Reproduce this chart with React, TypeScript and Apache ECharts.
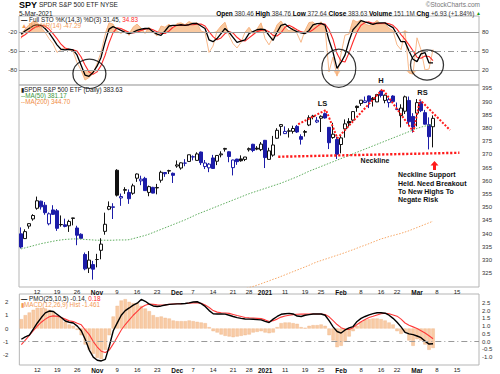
import React, { useEffect, useRef } from 'react';
import * as echarts from 'echarts';

const FONT = '"Liberation Sans", Arial, Helvetica, sans-serif';

const dates = [
  '2020-10-06','2020-10-07','2020-10-08','2020-10-09','2020-10-12','2020-10-13','2020-10-14','2020-10-15','2020-10-16','2020-10-19','2020-10-20','2020-10-21','2020-10-22','2020-10-23','2020-10-26','2020-10-27','2020-10-28','2020-10-29','2020-10-30',
  '2020-11-02','2020-11-03','2020-11-04','2020-11-05','2020-11-06','2020-11-09','2020-11-10','2020-11-11','2020-11-12','2020-11-13','2020-11-16','2020-11-17','2020-11-18','2020-11-19','2020-11-20','2020-11-23','2020-11-24','2020-11-25','2020-11-27','2020-11-30',
  '2020-12-01','2020-12-02','2020-12-03','2020-12-04','2020-12-07','2020-12-08','2020-12-09','2020-12-10','2020-12-11','2020-12-14','2020-12-15','2020-12-16','2020-12-17','2020-12-18','2020-12-21','2020-12-22','2020-12-23','2020-12-24','2020-12-28','2020-12-29','2020-12-30','2020-12-31',
  '2021-01-04','2021-01-05','2021-01-06','2021-01-07','2021-01-08','2021-01-11','2021-01-12','2021-01-13','2021-01-14','2021-01-15','2021-01-19','2021-01-20','2021-01-21','2021-01-22','2021-01-25','2021-01-26','2021-01-27','2021-01-28','2021-01-29',
  '2021-02-01','2021-02-02','2021-02-03','2021-02-04','2021-02-05','2021-02-08','2021-02-09','2021-02-10','2021-02-11','2021-02-12','2021-02-16','2021-02-17','2021-02-18','2021-02-19','2021-02-22','2021-02-23','2021-02-24','2021-02-25','2021-02-26',
  '2021-03-01','2021-03-02','2021-03-03','2021-03-04','2021-03-05','2021-03-08','2021-03-09','2021-03-10','2021-03-11','2021-03-12','2021-03-15','2021-03-16','2021-03-17','2021-03-18','2021-03-19','2021-03-22'
];

const tickDates = ['2020-10-12','2020-10-19','2020-10-26','2020-11-02','2020-11-09','2020-11-16','2020-11-23','2020-12-01','2020-12-07','2020-12-14','2020-12-21','2020-12-28','2021-01-04','2021-01-11','2021-01-19','2021-01-25','2021-02-01','2021-02-08','2021-02-16','2021-02-22','2021-03-01','2021-03-08','2021-03-15'];
const tickTexts = ['12','19','26','Nov','9','16','23','Dec','7','14','21','28','2021','11','19','25','Feb','8','16','22','Mar','8','15'];
const boldTicks = ['Nov','Dec','2021','Feb','Mar'];

const prevClose = 339.76;
const opens = [339.91,338.12,342.85,345.56,349.59,352.28,350.75,343.71,348.96,348.65,
343.46,343.33,342.96,345.93,342.13,339.76,332.10,326.91,328.28,330.20,
333.69,340.86,349.24,349.93,363.97,353.49,356.40,355.58,355.27,360.98,
359.97,360.91,355.60,357.50,357.28,360.21,363.13,363.84,362.83,365.57,
364.82,366.68,367.32,369.02,367.72,370.88,365.37,364.90,368.64,367.40,
369.82,371.94,370.97,364.97,368.21,368.28,368.08,371.74,373.81,372.34,
371.78,375.31,368.10,369.71,376.10,380.59,377.85,378.89,378.69,380.59,
376.72,378.34,381.11,384.49,382.25,383.67,385.41,380.22,376.36,375.63,
373.72,379.65,382.44,382.96,388.20,389.27,389.61,392.12,391.24,389.85,
393.96,390.42,389.59,392.07,387.06,384.66,386.33,390.41,384.35,385.59,
389.82,385.79,381.22,380.46];
const highs = [342.35,341.63,343.85,347.35,354.02,352.47,351.93,348.02,350.75,349.33,
346.88,345.67,345.24,345.99,342.98,340.12,332.84,333.40,329.69,332.36,
338.25,347.94,352.19,351.51,364.38,355.18,357.56,356.72,358.90,362.78,
361.92,361.50,358.18,357.72,358.82,363.81,363.16,364.18,363.12,367.68,
366.96,368.19,369.85,369.62,370.78,371.05,367.86,366.74,369.80,369.59,
371.16,372.46,371.15,368.00,368.33,369.62,369.03,372.59,374.00,373.10,
374.66,375.45,372.50,376.98,379.90,381.49,380.58,379.86,380.86,381.13,
377.58,379.23,384.79,384.95,384.13,384.77,385.85,380.32,381.93,376.67,
377.34,383.22,383.70,386.24,388.47,390.56,391.89,392.28,391.69,392.90,
394.17,392.66,391.52,392.38,389.62,388.95,392.23,391.88,385.58,390.92,
390.07,386.83,384.00,384.76];
const lows = [334.38,338.09,341.86,344.89,349.06,349.09,347.14,343.13,347.10,341.04,
342.64,342.40,340.65,343.13,335.62,337.99,326.13,325.09,322.60,327.24,
330.29,339.59,348.86,345.53,354.06,350.51,355.06,351.26,354.71,359.59,
358.34,356.24,354.15,355.25,354.87,359.29,361.48,362.58,359.17,364.93,
364.20,365.50,367.22,367.72,367.67,365.95,364.43,363.26,364.47,365.92,
368.87,371.05,367.02,362.03,366.03,367.22,367.45,371.07,370.83,371.57,
371.23,364.82,368.05,369.12,375.91,377.10,377.72,376.36,377.85,378.10,
373.70,376.75,380.69,383.25,381.84,378.46,383.54,372.01,375.89,368.27,
370.38,376.32,380.48,381.97,386.14,388.35,389.42,387.50,388.10,389.77,
391.53,389.33,387.74,389.55,386.74,380.20,385.27,380.78,378.23,380.57,
386.00,381.31,371.88,372.64];
const closes = [334.93,340.76,343.78,346.85,352.43,350.13,347.93,347.50,347.29,342.01,
343.38,342.73,344.61,345.78,339.39,338.22,326.66,329.98,326.54,330.20,
336.03,343.54,350.24,350.16,354.56,354.04,356.67,353.21,358.10,362.57,
360.62,356.28,357.78,355.33,357.46,363.22,362.66,363.67,362.06,366.02,
366.79,366.69,369.85,369.09,370.17,366.85,366.73,366.30,364.66,369.59,
370.17,372.24,369.18,367.86,367.24,367.57,369.00,372.17,371.46,371.99,
373.88,368.79,371.33,373.55,379.10,381.26,378.69,378.77,379.79,378.46,
375.70,378.65,383.89,384.24,382.88,384.39,383.79,374.41,377.63,370.07,
376.23,381.55,381.85,386.19,387.71,390.51,390.25,390.08,390.71,392.64,
392.30,392.39,390.72,390.03,387.03,387.50,391.77,382.33,380.36,389.58,
386.54,381.42,376.70,383.63];

const ma50 = [334.2,334.6,335.0,335.4,335.8,336.2,336.5,336.8,337.1,337.4,
337.6,337.8,337.9,338.0,338.0,337.9,337.8,337.7,337.6,337.5,
337.5,337.5,337.5,337.5,337.6,337.6,337.6,337.7,338.1,338.5,
338.9,339.3,339.8,340.4,341.0,341.6,342.2,342.8,343.4,344.0,
344.6,345.2,345.9,346.6,347.3,347.9,348.5,349.1,349.7,350.3,
350.9,351.5,352.1,352.7,353.3,353.9,354.5,355.1,355.6,356.1,
356.6,357.1,357.6,358.1,358.6,359.1,359.7,360.3,360.9,361.5,
362.2,362.9,363.6,364.2,364.8,365.4,366.0,366.6,367.2,367.8,
368.4,369.0,369.6,370.2,370.8,371.4,372.0,372.6,373.2,373.8,
374.4,375.0,375.6,376.2,376.8,377.4,378.0,378.6,379.2,379.8,
380.3,380.7,381.0,381.17];

const ma200Start = 55;
const ma200 = [318.6,319.1,319.6,320.0,320.5,321.0,321.6,322.1,322.7,323.2,
323.8,324.4,325.0,325.6,326.2,326.8,327.4,328.0,328.7,329.3,
329.8,330.3,330.8,331.3,331.8,332.3,332.8,333.4,333.9,334.5,
335.1,335.6,336.2,336.8,337.4,338.0,338.4,338.9,339.3,339.7,
340.1,340.6,341.1,341.7,342.3,342.9,343.5,344.1,344.7];

const stoK = [77,82,86,90,92,91,86,79,70,60,
53,52,53,52,44,28,12,10,16,26,
40,64,85,89,86,83,80,78,80,83,
85,86,86,81,77,75,82,90,91,91,
92,91,92,94,94,90,86,68,65,70,
78,86,80,72,64,66,68,78,81,84,
85,84,75,67,80,91,93,88,84,81,
79,78,83,91.7,93.9,94.3,91.4,67.2,48.5,22.7,
32,43.7,66,84.1,91,98.6,96.4,94.6,92.5,94.4,
95.1,94.9,90.9,87.5,76.4,65,65,50.1,37.1,33.3,
45.6,47.8,31.2,31.45];

const stoD = [72,76,81,86,89,91,90,85,78,70,
61,55,53,52,50,41,28,17,13,17,
27,43,63,79,87,86,83,80,79,80,
83,85,86,84,81,78,78,82,88,91,
91,91,92,92,93,93,90,81,73,68,
71,78,81,79,72,67,66,71,76,81,
83,84,81,75,74,79,88,91,88,84,
81,79,80,84,89,93.3,93.2,84.3,69,46.1,
34.4,32.8,47.2,64.6,80.4,91.2,95.3,96.5,94.5,93.8,
94,94.8,93.6,91.1,84.9,76.3,68.8,60,50.7,40.2,
38.7,42.2,41.5,34.83];

const willR = [-30,-15,-8,-3,-4,-12,-20,-30,-38,-52,
-48,-45,-48,-50,-68,-80,-96,-92,-86,-70,
-52,-25,-5,-7,-18,-22,-16,-25,-12,-7,
-13,-22,-12,-20,-26,-10,-12,-7,-14,-6,
-5,-8,-3,-6,-5,-18,-20,-52,-42,-18,
-10,-4,-25,-38,-45,-36,-20,-12,-22,-15,
-5,-30,-40,-28,-8,-2,-12,-18,-13,-22,
-36,-17,-4.5,-3.5,-10.3,-3.3,-12.3,-82.7,-59.4,-89.8,
-54.7,-24.5,-22.8,-0.3,-3.8,-0.2,-6.9,-9.2,-6.5,-1.1,
-7.2,-6.9,-13.3,-17.4,-40,-47.7,-17.2,-84.8,-86.6,-28.8,
-47.9,-80,-78.4,-47.29];

const pmo = [0.15,0.3,0.42,0.8,1.2,1.55,1.85,1.97,1.94,1.75,
1.55,1.33,1.25,1.2,1.0,0.7,0.13,-0.55,-1.0,-1.2,
-1.25,-1.15,-0.3,0.7,1.21,1.7,2.0,2.17,2.35,2.48,
2.72,2.6,2.42,2.3,2.26,2.3,2.36,2.4,2.42,2.43,
2.44,2.46,2.5,2.55,2.57,2.45,2.27,2.0,1.8,1.78,
1.78,1.77,1.7,1.62,1.55,1.5,1.46,1.45,1.44,1.42,
1.4,1.3,1.23,1.45,1.62,1.76,1.8,1.82,1.78,1.65,
1.62,1.7,1.74,1.78,1.78,1.78,1.7,1.35,0.95,0.65,
0.55,0.75,0.88,0.97,1.3,1.5,1.62,1.72,1.8,1.86,
1.86,1.83,1.7,1.5,1.25,0.95,0.6,0.5,0.45,0.36,
0.25,0.03,-0.16,-0.14];

const pmoSignal = [-0.2,0.1,0.4,0.7,1.0,1.25,1.45,1.6,1.66,1.63,
1.55,1.45,1.35,1.29,1.18,1.08,0.75,0.45,0.0,-0.35,
-0.62,-0.7,-0.55,-0.15,0.3,0.75,1.1,1.4,1.7,1.95,
2.2,2.35,2.42,2.4,2.37,2.36,2.37,2.4,2.42,2.44,
2.45,2.46,2.48,2.5,2.5,2.47,2.36,2.2,2.0,1.9,
1.86,1.84,1.82,1.75,1.68,1.62,1.55,1.53,1.52,1.5,
1.48,1.4,1.3,1.35,1.45,1.58,1.65,1.7,1.74,1.76,
1.77,1.77,1.78,1.78,1.78,1.78,1.75,1.6,1.35,1.1,
0.9,0.8,0.78,0.9,1.1,1.28,1.42,1.55,1.63,1.72,
1.8,1.83,1.8,1.72,1.64,1.45,1.2,1.05,0.95,0.85,
0.7,0.55,0.38,0.18];

const macdHist = [0.7,1.0,1.2,1.4,1.55,1.55,1.5,1.4,1.3,1.0,
0.8,0.5,0.3,0.2,-0.1,-0.5,-1.2,-1.6,-1.9,-2.2,
-2.3,-1.6,-0.5,0.9,1.7,2.1,2.2,2.0,1.9,1.9,
1.7,1.5,1.3,1.0,0.85,0.9,0.8,0.75,0.6,0.55,
0.55,0.55,0.6,0.55,0.5,0.45,0.4,0.1,-0.2,-0.3,
-0.45,-0.55,-0.6,-0.65,-0.6,-0.55,-0.5,-0.45,-0.3,-0.25,
-0.2,-0.3,-0.35,-0.3,0.1,0.4,0.45,0.45,0.4,0.35,
0.1,0.05,0.2,0.25,0.25,0.3,0.2,-0.5,-0.9,-1.4,
-1.3,-1.0,-0.6,-0.2,0.2,0.5,0.65,0.7,0.75,0.75,
0.7,0.6,0.45,0.3,-0.2,-0.4,-0.3,-0.9,-1.3,-0.8,
-0.9,-1.2,-1.6,-1.46];

// annotation drawings, in [trading-day index, value]
const hsZigzag = [[69.3,381.4],[76.25,386.8],[79.1,376.1],[90.4,394.7],[98.1,378.6],[99.75,390.6],[107.25,379.2]];
const necklinePts = [[64.3,369.1],[109.6,370.6]];
const circleCenters = [[17.1,13.9],[79.45,22.7],[101.5,27.9]];
const circleSizes = [[33,29],[34,38],[33,30]];

const GRID_L = 19, GRID_R = 21;

function buildOption() {
  const candleData = opens.map((o, i) => {
    const c = closes[i];
    const prev = i === 0 ? prevClose : closes[i - 1];
    const col = c >= prev ? '#111111' : '#1c1ca8';
    const fill = c >= o ? '#ffffff' : col;
    return {
      value: [o, c, lows[i], highs[i]],
      itemStyle: { color: fill, color0: fill, borderColor: col, borderColor0: col, borderColorDoji: col, borderWidth: 1 },
    };
  });
  const ma200Data = opens.map((_, i) => (i < ma200Start ? null : ma200[i - ma200Start]));

  const catAxis = (gridIndex: number, showLabels: boolean) => ({
    type: 'category', gridIndex, data: dates, boundaryGap: true,
    axisLine: { show: false }, axisTick: { show: false }, splitLine: { show: false },
    axisLabel: showLabels ? {
      show: true,
      interval: (_i: number, v: string) => tickDates.includes(v),
      formatter: (v: string) => {
        const t = tickTexts[tickDates.indexOf(v)];
        return boldTicks.includes(t) ? `{b|${t}}` : t;
      },
      fontSize: 6, color: '#222', margin: 2, fontFamily: FONT,
      rich: { b: { fontWeight: 'bold', fontSize: 6.5, fontFamily: FONT, color: '#111' } },
    } : { show: false },
  });
  const valX = (gridIndex: number) => ({ type: 'value', gridIndex, min: -0.5, max: 114.5, show: false });
  const valY = (gridIndex: number, position: string, min: number, max: number, vals: number[], margin: number, fmt?: (v: number) => string) => ({
    type: 'value', gridIndex, position, min, max,
    axisLine: { show: false }, axisTick: { show: false }, splitLine: { show: false },
    axisLabel: { customValues: vals, fontSize: 6, color: '#333', margin, fontFamily: FONT, formatter: fmt },
  });

  const gridStyle = { show: true, borderColor: '#b5b5b5', borderWidth: 1, backgroundColor: 'transparent', left: GRID_L, right: GRID_R };

  const txt = (x: number, y: number, text: string, font: string, fill: string, align = 'left', rich?: any) => ({
    type: 'text', x, y, z: 100,
    style: { text, font, fill, align, verticalAlign: 'top', rich },
  });
  const f = (s: number, b = false) => `${b ? 'bold ' : ''}${s}px ${FONT}`;

  return {
    animation: false,
    backgroundColor: '#ffffff',
    grid: [
      { ...gridStyle, top: 16, height: 69 },
      { ...gridStyle, top: 85, height: 202 },
      { ...gridStyle, top: 294, height: 72 },
    ],
    xAxis: [catAxis(0, false), catAxis(1, true), catAxis(2, true), valX(0), valX(1)],
    yAxis: [
      valY(0, 'right', -3.9, 105.9, [20, 50, 80], 3),
      valY(0, 'left', -103.9, 5.9, [-80, -50, -20], 2),
      valY(1, 'right', 319.8, 396.25, [325, 330, 335, 340, 345, 350, 355, 360, 365, 370, 375, 380, 385, 390, 395], 3),
      valY(2, 'right', -1.51, 3.07, [-1, -0.5, 0, 0.5, 1, 1.5, 2, 2.5], 3, (v: number) => v.toFixed(1)),
      valY(2, 'left', -2.74, 2.59, [-2, -1, 0, 1, 2], 11),
    ],
    series: [
      // top panel
      { type: 'line', xAxisIndex: 0, yAxisIndex: 1, data: willR.map(v => Math.max(v, -20)), symbol: 'none', lineStyle: { width: 0 }, areaStyle: { origin: -20, color: '#f9c9a0', opacity: 1 }, silent: true },
      { type: 'line', xAxisIndex: 0, yAxisIndex: 1, data: willR.map(v => Math.min(v, -80)), symbol: 'none', lineStyle: { width: 0 }, areaStyle: { origin: -80, color: '#f9c9a0', opacity: 1 }, silent: true },
      {
        type: 'line', xAxisIndex: 0, yAxisIndex: 1, data: willR, symbol: 'none', lineStyle: { color: '#f7b07c', width: 0.9 }, silent: true,
        markLine: {
          silent: true, symbol: ['none', 'none'], label: { show: false },
          data: [
            { yAxis: -20, lineStyle: { color: '#9a9a9a', width: 1, type: 'solid' } },
            { yAxis: -50, lineStyle: { color: '#9a9a9a', width: 1, type: [6, 3, 1, 3] } },
            { yAxis: -80, lineStyle: { color: '#9a9a9a', width: 1, type: 'solid' } },
          ],
        },
      },
      { type: 'line', xAxisIndex: 0, yAxisIndex: 0, data: stoD, symbol: 'none', lineStyle: { color: '#ff2a2a', width: 1.1 }, silent: true },
      { type: 'line', xAxisIndex: 0, yAxisIndex: 0, data: stoK, symbol: 'none', lineStyle: { color: '#000000', width: 1.3 }, silent: true },
      {
        type: 'scatter', xAxisIndex: 3, yAxisIndex: 0, clip: false, z: 20, silent: true,
        data: circleCenters.map((c, i) => ({ value: c, symbolSize: circleSizes[i] })),
        symbol: 'circle', itemStyle: { color: 'rgba(0,0,0,0)', borderColor: '#000', borderWidth: 1.2 },
      },
      // main panel
      { type: 'line', xAxisIndex: 1, yAxisIndex: 2, data: ma200Data, symbol: 'none', lineStyle: { color: '#f6a868', width: 1, type: [1.5, 1.5] }, silent: true },
      { type: 'line', xAxisIndex: 1, yAxisIndex: 2, data: ma50, symbol: 'none', lineStyle: { color: '#5fae5f', width: 1, type: [1.5, 1.5] }, silent: true },
      { type: 'candlestick', xAxisIndex: 1, yAxisIndex: 2, data: candleData, barWidth: 3, silent: true },
      { type: 'line', xAxisIndex: 4, yAxisIndex: 2, data: hsZigzag, symbol: 'none', lineStyle: { color: '#ff1a1a', width: 2, type: [2, 1.6] }, z: 10, silent: true },
      { type: 'line', xAxisIndex: 4, yAxisIndex: 2, data: necklinePts, symbol: 'none', lineStyle: { color: '#ff1a1a', width: 2.4, type: [2.2, 1.8] }, z: 10, silent: true },
      // bottom panel
      { type: 'bar', xAxisIndex: 2, yAxisIndex: 4, data: macdHist, barCategoryGap: '15%', itemStyle: { color: '#f8cba5', borderColor: '#efb283', borderWidth: 0.4 }, silent: true },
      {
        type: 'line', xAxisIndex: 2, yAxisIndex: 3, data: pmoSignal, symbol: 'none', lineStyle: { color: '#ff3a3a', width: 1.1 }, silent: true,
        markLine: { silent: true, symbol: ['none', 'none'], label: { show: false }, data: [{ yAxis: 0, lineStyle: { color: '#999', width: 1, type: [6, 3, 1, 3] } }] },
      },
      { type: 'line', xAxisIndex: 2, yAxisIndex: 3, data: pmo, symbol: 'none', lineStyle: { color: '#000', width: 1.4 }, silent: true },
    ],
    graphic: [
      txt(19, 0, '{a|SPY} {b|SPDR S&P 500 ETF NYSE}', f(7), '#111', 'left', { a: { font: f(9, true), fill: '#000', lineHeight: 9 }, b: { font: f(6.5), fill: '#222', lineHeight: 9 } }),
      txt(19, 9.5, '5-Mar-2021', f(6.5), '#222'),
      txt(480, 1, '©StockCharts.com', f(6.5), '#777', 'right'),
      txt(481, 9.5, '{l|Open} 380.46 {l|High} 384.76 {l|Low} 372.64 {l|Close} 383.63 {l|Volume} 151.1M {l|Chg} +6.93 (+1.84%) {g|▲}', f(6.3), '#333', 'right',
        { l: { font: f(6.5, true), fill: '#000' }, g: { font: f(5), fill: '#1a9a1a' } }),
      txt(21, 16.5, '{k|—} Full STO %K(14,3) %D(3) 31.45, {r|34.83}', f(6.3), '#222', 'left', { k: { font: f(6.3, true), fill: '#000' }, r: { font: f(6.3), fill: '#ff2a2a' } }),
      txt(21, 22.5, '▲ Wm%R(14) -47.29', f(6.3), '#f39a55'),
      txt(21, 86.5, '▮SPDR S&P 500 ETF (Daily) 383.63', f(6.3), '#222'),
      txt(21, 92.5, '--MA(50) 381.17', f(6.3), '#3c963c'),
      txt(21, 98.5, '--MA(200) 344.70', f(6.3), '#f08a40'),
      txt(21, 295.5, '{k|—} PMO(25,10,5) -0.14, {r|0.18}', f(6.3), '#222', 'left', { k: { font: f(6.3, true), fill: '#000' }, r: { font: f(6.3), fill: '#ff2a2a' } }),
      txt(21, 301.5, '▮MACD(12,26,9) Hist -1.461', f(6.3), '#f39a55'),
      txt(322.5, 99, 'LS', f(7.5, true), '#111', 'center'),
      txt(381, 76, 'H', f(7.5, true), '#111', 'center'),
      txt(422.5, 88.5, 'RS', f(7.5, true), '#111', 'center'),
      txt(375, 156.5, 'Neckline', f(7, true), '#111', 'center'),
      txt(398, 171, 'Neckline Support', f(7, true), '#111'),
      txt(398, 179.5, 'Held. Need Breakout', f(7, true), '#111'),
      txt(398, 188, 'To New Highs To', f(7, true), '#111'),
      txt(398, 196, 'Negate Risk', f(7, true), '#111'),
      {
        type: 'polygon', z: 100,
        shape: { points: [[434.5, 161], [430.5, 165.5], [433, 165.5], [433, 170], [436, 170], [436, 165.5], [438.5, 165.5]] },
        style: { fill: '#ff1a1a' },
      },
    ],
  };
}

export default function App() {
  const ref = useRef<HTMLDivElement>(null);
  useEffect(() => {
    if (!ref.current) return;
    const chart = echarts.init(ref.current, undefined, { renderer: 'svg', width: 500, height: 374 });
    chart.setOption(buildOption() as any);
    return () => chart.dispose();
  }, []);
  return <div ref={ref} style={{ position: 'fixed', left: 0, top: 0, width: 500, height: 374, background: '#fff' }} />;
}
